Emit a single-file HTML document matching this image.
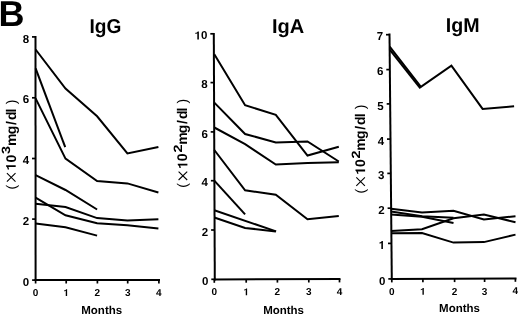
<!DOCTYPE html>
<html><head><meta charset="utf-8"><style>
html,body{margin:0;padding:0;background:#fff;}
body{width:520px;height:315px;overflow:hidden;}
svg{display:block;font-family:"Liberation Sans",sans-serif;filter:grayscale(1) blur(0.35px);text-rendering:geometricPrecision;}
</style></head><body>
<svg width="520" height="315" viewBox="0 0 520 315">
<text x="-1.6" y="26" font-size="36" font-weight="bold">B</text>
<text x="105.5" y="33.3" font-size="20" font-weight="bold" text-anchor="middle" textLength="31.9" lengthAdjust="spacingAndGlyphs">IgG</text>
<text x="288.1" y="32.8" font-size="20" font-weight="bold" text-anchor="middle">IgA</text>
<text x="462.6" y="31.7" font-size="20" font-weight="bold" text-anchor="middle" textLength="33.8" lengthAdjust="spacingAndGlyphs">IgM</text>
<line x1="35.5" y1="36.1" x2="35.6" y2="281.1" stroke="#000" stroke-width="2.0"/>
<line x1="34.5" y1="280.1" x2="160.0" y2="280.1" stroke="#000" stroke-width="2.0"/>
<line x1="32.1" y1="280.1" x2="35.6" y2="280.1" stroke="#000" stroke-width="1.7"/>
<text x="22.81" y="285.70" font-size="11.5" font-weight="bold">0</text>
<line x1="32.1" y1="219.1" x2="35.6" y2="219.1" stroke="#000" stroke-width="1.7"/>
<text x="22.78" y="224.70" font-size="11.5" font-weight="bold">2</text>
<line x1="32.0" y1="158.5" x2="35.5" y2="158.5" stroke="#000" stroke-width="1.7"/>
<text x="22.76" y="164.10" font-size="11.5" font-weight="bold">4</text>
<line x1="32.0" y1="97.8" x2="35.5" y2="97.8" stroke="#000" stroke-width="1.7"/>
<text x="22.73" y="103.40" font-size="11.5" font-weight="bold">6</text>
<line x1="32.0" y1="36.9" x2="35.5" y2="36.9" stroke="#000" stroke-width="1.7"/>
<text x="22.71" y="42.50" font-size="11.5" font-weight="bold">8</text>
<line x1="35.6" y1="280.1" x2="35.6" y2="283.5" stroke="#000" stroke-width="1.7"/>
<text x="32.82" y="296.10" font-size="10" font-weight="bold">0</text>
<line x1="66.2" y1="280.1" x2="66.2" y2="283.5" stroke="#000" stroke-width="1.7"/>
<path d="M478,0L759,0L759,1409L560,1409C530,1330 470,1270 400,1235C330,1200 240,1180 140,1165L140,965C250,975 380,1010 478,1075Z" transform="translate(63.42,296.10) scale(0.00488,-0.00488)" fill="#000"/>
<line x1="97.4" y1="280.1" x2="97.4" y2="283.5" stroke="#000" stroke-width="1.7"/>
<text x="94.62" y="296.10" font-size="10" font-weight="bold">2</text>
<line x1="127.7" y1="280.1" x2="127.7" y2="283.5" stroke="#000" stroke-width="1.7"/>
<text x="124.92" y="296.10" font-size="10" font-weight="bold">3</text>
<line x1="158.9" y1="280.1" x2="158.9" y2="283.5" stroke="#000" stroke-width="1.7"/>
<text x="156.12" y="296.10" font-size="10" font-weight="bold">4</text>
<line x1="213.8" y1="33.0" x2="214.8" y2="280.4" stroke="#000" stroke-width="2.0"/>
<line x1="213.8" y1="279.4" x2="340.5" y2="279.0" stroke="#000" stroke-width="2.0"/>
<line x1="211.3" y1="279.3" x2="214.8" y2="279.3" stroke="#000" stroke-width="1.7"/>
<text x="202.00" y="284.90" font-size="11.5" font-weight="bold">0</text>
<line x1="211.1" y1="230.0" x2="214.6" y2="230.0" stroke="#000" stroke-width="1.7"/>
<text x="201.80" y="235.60" font-size="11.5" font-weight="bold">2</text>
<line x1="210.9" y1="180.7" x2="214.4" y2="180.7" stroke="#000" stroke-width="1.7"/>
<text x="201.60" y="186.30" font-size="11.5" font-weight="bold">4</text>
<line x1="210.7" y1="131.9" x2="214.2" y2="131.9" stroke="#000" stroke-width="1.7"/>
<text x="201.41" y="137.50" font-size="11.5" font-weight="bold">6</text>
<line x1="210.5" y1="82.6" x2="214.0" y2="82.6" stroke="#000" stroke-width="1.7"/>
<text x="201.21" y="88.20" font-size="11.5" font-weight="bold">8</text>
<line x1="210.3" y1="33.8" x2="213.8" y2="33.8" stroke="#000" stroke-width="1.7"/>
<path d="M478,0L759,0L759,1409L560,1409C530,1330 470,1270 400,1235C330,1200 240,1180 140,1165L140,965C250,975 380,1010 478,1075Z" transform="translate(194.62,39.40) scale(0.00562,-0.00562)" fill="#000"/><text x="201.01" y="39.40" font-size="11.5" font-weight="bold">0</text>
<line x1="214.3" y1="279.4" x2="214.3" y2="282.8" stroke="#000" stroke-width="1.7"/>
<text x="211.52" y="295.40" font-size="10" font-weight="bold">0</text>
<line x1="246.2" y1="279.3" x2="246.2" y2="282.7" stroke="#000" stroke-width="1.7"/>
<path d="M478,0L759,0L759,1409L560,1409C530,1330 470,1270 400,1235C330,1200 240,1180 140,1165L140,965C250,975 380,1010 478,1075Z" transform="translate(243.42,295.30) scale(0.00488,-0.00488)" fill="#000"/>
<line x1="277.4" y1="279.2" x2="277.4" y2="282.6" stroke="#000" stroke-width="1.7"/>
<text x="274.62" y="295.20" font-size="10" font-weight="bold">2</text>
<line x1="308.8" y1="279.1" x2="308.8" y2="282.5" stroke="#000" stroke-width="1.7"/>
<text x="306.02" y="295.10" font-size="10" font-weight="bold">3</text>
<line x1="339.5" y1="279.0" x2="339.5" y2="282.4" stroke="#000" stroke-width="1.7"/>
<text x="336.72" y="295.00" font-size="10" font-weight="bold">4</text>
<line x1="389.5" y1="33.6" x2="391.8" y2="280.0" stroke="#000" stroke-width="2.0"/>
<line x1="390.8" y1="279.0" x2="516.5" y2="278.4" stroke="#000" stroke-width="2.0"/>
<line x1="388.3" y1="278.9" x2="391.8" y2="278.9" stroke="#000" stroke-width="1.7"/>
<text x="379.00" y="284.50" font-size="11.5" font-weight="bold">0</text>
<line x1="388.0" y1="243.4" x2="391.5" y2="243.4" stroke="#000" stroke-width="1.7"/>
<path d="M478,0L759,0L759,1409L560,1409C530,1330 470,1270 400,1235C330,1200 240,1180 140,1165L140,965C250,975 380,1010 478,1075Z" transform="translate(378.66,249.00) scale(0.00562,-0.00562)" fill="#000"/>
<line x1="387.6" y1="208.2" x2="391.1" y2="208.2" stroke="#000" stroke-width="1.7"/>
<text x="378.34" y="213.80" font-size="11.5" font-weight="bold">2</text>
<line x1="387.3" y1="173.4" x2="390.8" y2="173.4" stroke="#000" stroke-width="1.7"/>
<text x="378.01" y="179.00" font-size="11.5" font-weight="bold">3</text>
<line x1="387.0" y1="139.1" x2="390.5" y2="139.1" stroke="#000" stroke-width="1.7"/>
<text x="377.69" y="144.70" font-size="11.5" font-weight="bold">4</text>
<line x1="386.7" y1="103.9" x2="390.2" y2="103.9" stroke="#000" stroke-width="1.7"/>
<text x="377.36" y="109.50" font-size="11.5" font-weight="bold">5</text>
<line x1="386.3" y1="69.6" x2="389.8" y2="69.6" stroke="#000" stroke-width="1.7"/>
<text x="377.04" y="75.20" font-size="11.5" font-weight="bold">6</text>
<line x1="386.0" y1="34.7" x2="389.5" y2="34.7" stroke="#000" stroke-width="1.7"/>
<text x="376.72" y="40.30" font-size="11.5" font-weight="bold">7</text>
<line x1="391.8" y1="279.0" x2="391.8" y2="282.4" stroke="#000" stroke-width="1.7"/>
<text x="389.02" y="295.00" font-size="10" font-weight="bold">0</text>
<line x1="422.9" y1="278.8" x2="422.9" y2="282.2" stroke="#000" stroke-width="1.7"/>
<path d="M478,0L759,0L759,1409L560,1409C530,1330 470,1270 400,1235C330,1200 240,1180 140,1165L140,965C250,975 380,1010 478,1075Z" transform="translate(420.12,294.85) scale(0.00488,-0.00488)" fill="#000"/>
<line x1="454.6" y1="278.7" x2="454.6" y2="282.1" stroke="#000" stroke-width="1.7"/>
<text x="451.82" y="294.70" font-size="10" font-weight="bold">2</text>
<line x1="484.6" y1="278.6" x2="484.6" y2="282.0" stroke="#000" stroke-width="1.7"/>
<text x="481.82" y="294.55" font-size="10" font-weight="bold">3</text>
<line x1="515.4" y1="278.4" x2="515.4" y2="281.8" stroke="#000" stroke-width="1.7"/>
<text x="512.62" y="294.41" font-size="10" font-weight="bold">4</text>
<polyline points="35.6,49.5 65.5,88.6 97.1,116.3 127.4,153.5 158.4,147.1" fill="none" stroke="#000" stroke-width="2.0" stroke-linejoin="miter" stroke-miterlimit="10"/>
<polyline points="35.6,68.4 65.2,147.1" fill="none" stroke="#000" stroke-width="2.0" stroke-linejoin="miter" stroke-miterlimit="10"/>
<polyline points="35.6,98.4 65.5,158.6 97.1,181.0 127.4,183.4 158.4,192.5" fill="none" stroke="#000" stroke-width="2.0" stroke-linejoin="miter" stroke-miterlimit="10"/>
<polyline points="35.6,175.2 65.5,190.0 97.1,209.5" fill="none" stroke="#000" stroke-width="2.0" stroke-linejoin="miter" stroke-miterlimit="10"/>
<polyline points="35.6,197.6 65.5,215.3 97.1,223.2 127.4,225.3 158.4,228.4" fill="none" stroke="#000" stroke-width="2.0" stroke-linejoin="miter" stroke-miterlimit="10"/>
<polyline points="35.6,203.7 65.5,207.0 97.1,218.1 127.4,220.6 158.4,219.3" fill="none" stroke="#000" stroke-width="2.0" stroke-linejoin="miter" stroke-miterlimit="10"/>
<polyline points="35.6,223.5 65.5,227.3 97.1,235.6" fill="none" stroke="#000" stroke-width="2.0" stroke-linejoin="miter" stroke-miterlimit="10"/>
<polyline points="214.3,54.2 245.1,105.2 275.8,114.9 307.5,155.5 338.8,146.7" fill="none" stroke="#000" stroke-width="2.0" stroke-linejoin="miter" stroke-miterlimit="10"/>
<polyline points="214.3,102.6 245.1,134.0 275.8,142.5 307.5,141.5 338.8,161.5" fill="none" stroke="#000" stroke-width="2.0" stroke-linejoin="miter" stroke-miterlimit="10"/>
<polyline points="214.3,127.5 245.1,144.2 275.8,164.6 307.5,163.0 338.8,162.3" fill="none" stroke="#000" stroke-width="2.0" stroke-linejoin="miter" stroke-miterlimit="10"/>
<polyline points="214.3,150.0 245.1,190.3 275.8,194.7 307.5,219.3 338.8,216.0" fill="none" stroke="#000" stroke-width="2.0" stroke-linejoin="miter" stroke-miterlimit="10"/>
<polyline points="214.3,180.7 245.1,214.4" fill="none" stroke="#000" stroke-width="2.0" stroke-linejoin="miter" stroke-miterlimit="10"/>
<polyline points="214.3,210.2 276.1,231.4" fill="none" stroke="#000" stroke-width="2.0" stroke-linejoin="miter" stroke-miterlimit="10"/>
<polyline points="214.3,217.5 245.1,227.9 275.8,231.4" fill="none" stroke="#000" stroke-width="2.0" stroke-linejoin="miter" stroke-miterlimit="10"/>
<polyline points="389.7,46.6 420.9,86.8 451.4,65.7 482.6,108.9 514.1,106.3" fill="none" stroke="#000" stroke-width="2.0" stroke-linejoin="miter" stroke-miterlimit="10"/>
<polyline points="389.7,49.6 420.4,88.4" fill="none" stroke="#000" stroke-width="2.0" stroke-linejoin="miter" stroke-miterlimit="10"/>
<polyline points="391.0,208.7 422.0,212.4 453.5,210.8 483.9,219.5 515.5,216.2" fill="none" stroke="#000" stroke-width="2.0" stroke-linejoin="miter" stroke-miterlimit="10"/>
<polyline points="391.0,211.5 422.0,216.2 453.5,217.8" fill="none" stroke="#000" stroke-width="2.0" stroke-linejoin="miter" stroke-miterlimit="10"/>
<polyline points="391.0,214.5 422.0,216.8 453.5,223.0" fill="none" stroke="#000" stroke-width="2.0" stroke-linejoin="miter" stroke-miterlimit="10"/>
<polyline points="391.0,231.0 422.0,229.3 453.5,218.3 483.9,214.6 515.5,222.2" fill="none" stroke="#000" stroke-width="2.0" stroke-linejoin="miter" stroke-miterlimit="10"/>
<polyline points="391.0,233.3 422.0,233.0 453.5,242.6 483.9,242.1 515.5,234.6" fill="none" stroke="#000" stroke-width="2.0" stroke-linejoin="miter" stroke-miterlimit="10"/>
<g transform="translate(15.7,0) rotate(-90)">
<text x="-101.95" y="0" font-size="14" font-weight="normal" text-anchor="middle">)</text>
<text x="-110.45" y="0" font-size="14" font-weight="bold" text-anchor="middle">l</text>
<text x="-115.75" y="0" font-size="14" font-weight="bold" text-anchor="middle">d</text>
<text x="-123.10" y="0" font-size="14" font-weight="bold" text-anchor="middle">/</text>
<text x="-130.00" y="0" font-size="14" font-weight="bold" text-anchor="middle">g</text>
<text x="-139.85" y="0" font-size="14" font-weight="bold" text-anchor="middle">m</text>
<text x="-158.70" y="0" font-size="14" font-weight="bold" text-anchor="middle">0</text>
<path d="M478,0L759,0L759,1409L560,1409C530,1330 470,1270 400,1235C330,1200 240,1180 140,1165L140,965C250,975 380,1010 478,1075Z" transform="translate(-170.39,0.00) scale(0.00684,-0.00684)" fill="#000"/>
<text x="-187.20" y="0" font-size="14" font-weight="normal" text-anchor="middle">(</text>
<text transform="translate(-149.90,-5.4) scale(1.2,1)" font-size="12" font-weight="bold" text-anchor="middle">3</text>
</g>
<path d="M6.9,173.2L15.5,181.6M6.9,181.6L15.5,173.2" stroke="#000" stroke-width="1.1" fill="none"/>
<g transform="translate(187.4,0) rotate(-90)">
<text x="-101.13" y="0" font-size="14" font-weight="normal" text-anchor="middle">)</text>
<text x="-109.53" y="0" font-size="14" font-weight="bold" text-anchor="middle">l</text>
<text x="-114.77" y="0" font-size="14" font-weight="bold" text-anchor="middle">d</text>
<text x="-122.04" y="0" font-size="14" font-weight="bold" text-anchor="middle">/</text>
<text x="-128.86" y="0" font-size="14" font-weight="bold" text-anchor="middle">g</text>
<text x="-138.60" y="0" font-size="14" font-weight="bold" text-anchor="middle">m</text>
<text x="-157.24" y="0" font-size="14" font-weight="bold" text-anchor="middle">0</text>
<path d="M478,0L759,0L759,1409L560,1409C530,1330 470,1270 400,1235C330,1200 240,1180 140,1165L140,965C250,975 380,1010 478,1075Z" transform="translate(-168.84,0.00) scale(0.00684,-0.00684)" fill="#000"/>
<text x="-185.42" y="0" font-size="14" font-weight="normal" text-anchor="middle">(</text>
<text transform="translate(-148.54,-5.4) scale(1.2,1)" font-size="12" font-weight="bold" text-anchor="middle">2</text>
</g>
<path d="M178.6,171.6L187.2,180.0M178.6,180.0L187.2,171.6" stroke="#000" stroke-width="1.1" fill="none"/>
<g transform="translate(365.1,0) rotate(-90)">
<text x="-107.03" y="0" font-size="14" font-weight="normal" text-anchor="middle">)</text>
<text x="-115.42" y="0" font-size="14" font-weight="bold" text-anchor="middle">l</text>
<text x="-120.66" y="0" font-size="14" font-weight="bold" text-anchor="middle">d</text>
<text x="-127.91" y="0" font-size="14" font-weight="bold" text-anchor="middle">/</text>
<text x="-134.73" y="0" font-size="14" font-weight="bold" text-anchor="middle">g</text>
<text x="-144.46" y="0" font-size="14" font-weight="bold" text-anchor="middle">m</text>
<text x="-163.07" y="0" font-size="14" font-weight="bold" text-anchor="middle">0</text>
<path d="M478,0L759,0L759,1409L560,1409C530,1330 470,1270 400,1235C330,1200 240,1180 140,1165L140,965C250,975 380,1010 478,1075Z" transform="translate(-174.67,0.00) scale(0.00684,-0.00684)" fill="#000"/>
<text x="-191.22" y="0" font-size="14" font-weight="normal" text-anchor="middle">(</text>
<text transform="translate(-154.38,-5.4) scale(1.2,1)" font-size="12" font-weight="bold" text-anchor="middle">2</text>
</g>
<path d="M356.3,177.4L364.9,185.8M356.3,185.8L364.9,177.4" stroke="#000" stroke-width="1.1" fill="none"/>
<text x="101.7" y="313.7" font-size="11.5" font-weight="bold" text-anchor="middle">Months</text>
<text x="283.6" y="313.6" font-size="11.5" font-weight="bold" text-anchor="middle">Months</text>
<text x="459.5" y="312.4" font-size="11.5" font-weight="bold" text-anchor="middle">Months</text>
</svg>
</body></html>
